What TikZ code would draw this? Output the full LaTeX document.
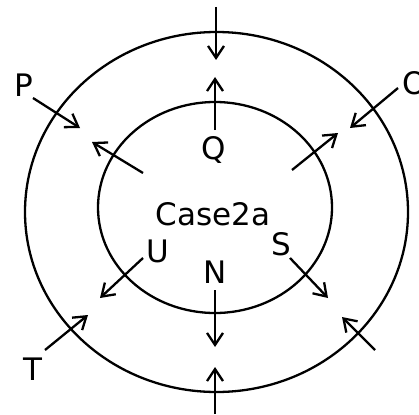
\documentclass[tikz,border=0pt]{standalone}
\usepackage{fontspec}
\setmainfont{DejaVu Sans}
\usetikzlibrary{arrows.meta}

\begin{document}
\begin{tikzpicture}[x=1pt,y=-1pt,
    ring/.style={line width=2.3pt},
    flow/.style={line width=2.3pt,-{Straight Barb[length=12pt,width=16pt]}},
    lbl/.style={font=\fontsize{31}{36}\selectfont,inner sep=0pt,anchor=base}]
    \useasboundingbox (0,0) rectangle (419,414);

    % two rings
    \draw[ring] (216.5,212) ellipse [x radius=191.5,y radius=180];
    \draw[ring] (215,207.5) ellipse [x radius=117,y radius=105.5];

    % labels
    \node[lbl] (case) at (213,225) {Case2a};
    \node[lbl] (p) at (24,97) {P};
    \node[lbl] (q) at (214,159) {Q};
    \node[lbl,anchor=base west] (o) at (402,95) {O};
    \node[lbl] (u) at (157.5,262) {U};
    \node[lbl] (n) at (215,283) {N};
    \node[lbl] (s) at (281.5,255) {S};
    \node[lbl] (t) at (33,380) {T};

    % arrow ends
    \coordinate (topA) at (216,7);   \coordinate (topB) at (216,60);
    \coordinate (qA) at (215,130);   \coordinate (qB) at (215,77);
    \coordinate (nA) at (215,290);   \coordinate (nB) at (215,347);
    \coordinate (botA) at (215,414); \coordinate (botB) at (215,367);
    \coordinate (pA) at (33,98);     \coordinate (pB) at (80,128);
    \coordinate (ulA) at (143,173);  \coordinate (ulB) at (92,142);
    \coordinate (oA) at (398,88);    \coordinate (oB) at (350,128);
    \coordinate (urA) at (292,170);  \coordinate (urB) at (338,133);
    \coordinate (uA) at (143,258);   \coordinate (uB) at (100,298);
    \coordinate (tA) at (45,350);    \coordinate (tB) at (88,315);
    \coordinate (sA) at (290,258);   \coordinate (sB) at (328,298);
    \coordinate (lrA) at (375,350);  \coordinate (lrB) at (342,317);

    % arrows
    \foreach \a in {top,q,n,bot,p,ul,o,ur,u,t,s,lr}
        \draw[flow] (\a A) -- (\a B);
\end{tikzpicture}
\end{document}
